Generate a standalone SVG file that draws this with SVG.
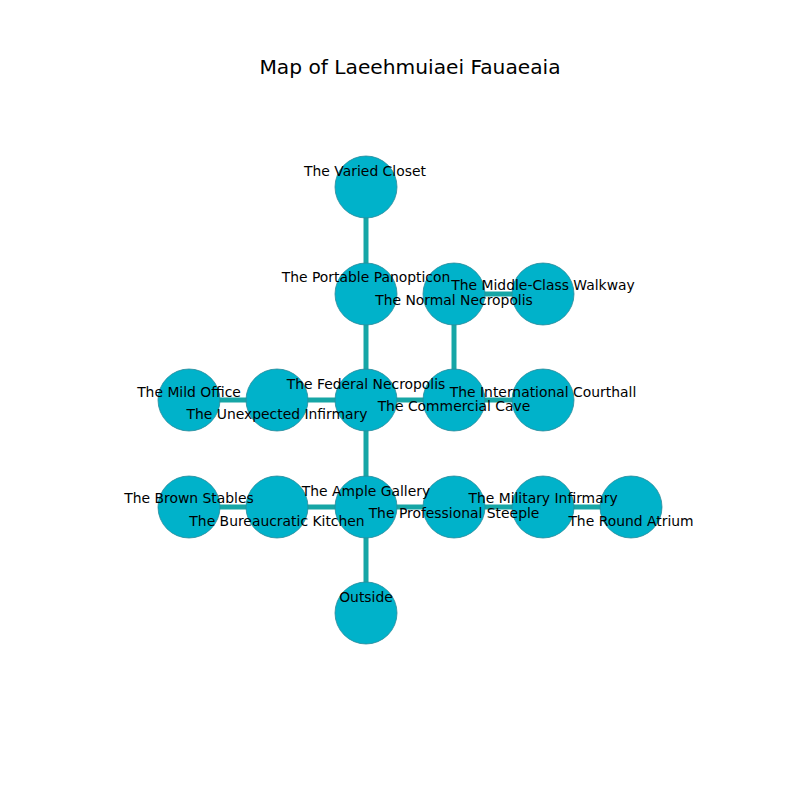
<svg xmlns="http://www.w3.org/2000/svg" width="800" height="800" viewBox="0 0 800 800">
<style>
.n{fill:#00b2ca;stroke:#2a8a9a;stroke-width:0.8}
.e{stroke:#16a6a6;stroke-width:5;fill:none}
.t{font-family:"DejaVu Sans",sans-serif;font-size:13.9px;fill:#000;text-anchor:middle;dominant-baseline:central}
.title{font-family:"DejaVu Sans",sans-serif;font-size:20.2px;fill:#000;text-anchor:middle}
</style>
<rect width="800" height="800" fill="#fff"/>
<text class="title" x="410" y="74">Map of Laeehmuiaei Fauaeaia</text>
<g id="connectors">
<line class="e" x1="366" y1="187" x2="366" y2="294"/>
<line class="e" x1="366" y1="294" x2="366" y2="400"/>
<line class="e" x1="454" y1="294" x2="543" y2="294"/>
<line class="e" x1="454" y1="294" x2="454" y2="400"/>
<line class="e" x1="189" y1="400" x2="543" y2="400"/>
<line class="e" x1="366" y1="400" x2="366" y2="613"/>
<line class="e" x1="189" y1="507" x2="631" y2="507"/>
</g>
<g id="node-varied-closet"><circle class="n" cx="366" cy="187" r="31"/><text class="t" x="365" y="171">The Varied Closet</text></g>
<g id="node-portable-panopticon"><circle class="n" cx="366" cy="294" r="31"/></g>
<g id="node-normal-necropolis"><circle class="n" cx="454" cy="294" r="31"/></g>
<g id="node-middle-class-walkway"><circle class="n" cx="543" cy="294" r="31"/></g>
<g id="node-mild-office"><circle class="n" cx="189" cy="400" r="31"/></g>
<g id="node-unexpected-infirmary"><circle class="n" cx="277" cy="400" r="31"/></g>
<g id="node-federal-necropolis"><circle class="n" cx="366" cy="400" r="31"/></g>
<g id="node-commercial-cave"><circle class="n" cx="454" cy="400" r="31"/></g>
<g id="node-international-courthall"><circle class="n" cx="543" cy="400" r="31"/></g>
<g id="node-brown-stables"><circle class="n" cx="189" cy="507" r="31"/></g>
<g id="node-bureaucratic-kitchen"><circle class="n" cx="277" cy="507" r="31"/></g>
<g id="node-ample-gallery"><circle class="n" cx="366" cy="507" r="31"/></g>
<g id="node-professional-steeple"><circle class="n" cx="454" cy="507" r="31"/></g>
<g id="node-military-infirmary"><circle class="n" cx="543" cy="507" r="31"/></g>
<g id="node-round-atrium"><circle class="n" cx="631" cy="507" r="31"/></g>
<g id="node-outside"><circle class="n" cx="366" cy="613" r="31"/><text class="t" x="366" y="597">Outside</text></g>
<g id="labels">
<text class="t" x="366" y="277">The Portable Panopticon</text>
<text class="t" x="454" y="300">The Normal Necropolis</text>
<text class="t" x="543" y="285">The Middle-Class Walkway</text>
<text class="t" x="189" y="392">The Mild Office</text>
<text class="t" x="277" y="414">The Unexpected Infirmary</text>
<text class="t" x="366" y="384">The Federal Necropolis</text>
<text class="t" x="454" y="406">The Commercial Cave</text>
<text class="t" x="543" y="392">The International Courthall</text>
<text class="t" x="189" y="498">The Brown Stables</text>
<text class="t" x="277" y="521">The Bureaucratic Kitchen</text>
<text class="t" x="366" y="491">The Ample Gallery</text>
<text class="t" x="454" y="513">The Professional Steeple</text>
<text class="t" x="543" y="498">The Military Infirmary</text>
<text class="t" x="631" y="521">The Round Atrium</text>
</g>
</svg>
